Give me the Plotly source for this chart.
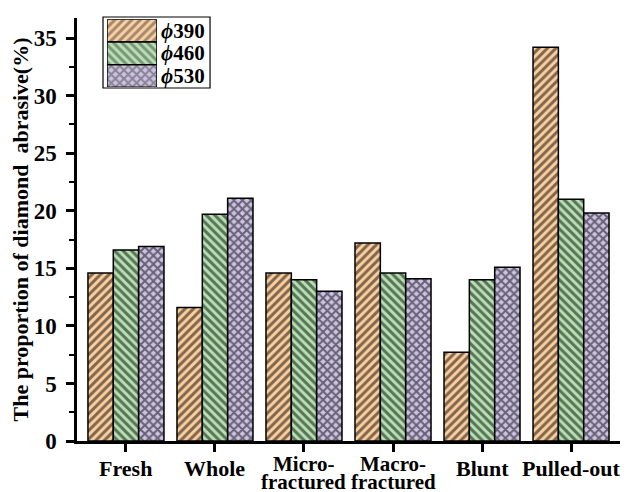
import plotly.graph_objects as go

categories = ["Fresh", "Whole", "Micro-<br>fractured", "Macro-<br>fractured", "Blunt", "Pulled-out"]
series_names = ["390", "460", "530"]
phi390 = [14.6, 11.6, 14.6, 17.2, 7.7, 34.2]
phi460 = [16.6, 19.7, 14.0, 14.6, 14.0, 21.0]
phi530 = [16.9, 21.1, 13.0, 14.1, 15.1, 19.8]
y_ticks = [0, 5, 10, 15, 20, 25, 30, 35]

colors = ["#FDCF9E", "#B6E2B2", "#CCC2E2"]
shapes_p = ["/", "\\", "x"]
sizes_p = [6, 6, 6]
solid_p = [0.5, 0.5, 0.55]
FONT = "Liberation Serif"

fig = go.Figure()
xs = list(range(len(categories)))
for vals, c, sh, sz, so in zip([phi390, phi460, phi530], colors, shapes_p, sizes_p, solid_p):
    fig.add_trace(go.Bar(
        x=xs, y=vals, showlegend=False,
        marker=dict(color=c, line=dict(color="black", width=1.5),
                    pattern=dict(shape=sh, fgcolor="black", bgcolor=c,
                                 size=sz, solidity=so, fillmode="overlay")),
    ))

# custom legend with big swatches on an inset axis
fig.add_trace(go.Bar(
    x=[1, 1, 1], y=[0, 1, 2], orientation="h", xaxis="x2", yaxis="y2",
    showlegend=False, width=1,
    marker=dict(color=colors, line=dict(color="black", width=1.5),
                pattern=dict(shape=shapes_p, fgcolor="black", bgcolor=colors,
                             size=sizes_p, solidity=solid_p, fillmode="overlay")),
))

# page body has an 8px margin: figure is 8px smaller each way
fig.update_layout(
    width=622, height=484,
    margin=dict(l=69, r=10, t=10, b=51, autoexpand=False),
    plot_bgcolor="white", paper_bgcolor="white",
    barmode="group", bargap=0.146, bargroupgap=0,
    font=dict(family=FONT, color="black"),
    xaxis=dict(range=[-0.55, 5.55], tickvals=xs, showticklabels=False, automargin=False,
               showline=True, linecolor="black", linewidth=2.5,
               ticks="outside", ticklen=8, tickwidth=2.5, tickcolor="black",
               showgrid=False, zeroline=False),
    yaxis=dict(range=[0, 36.75], tickvals=y_ticks, automargin=False,
               showline=True, linecolor="black", linewidth=2.5,
               ticks="outside", ticklen=8, tickwidth=2.5, tickcolor="black",
               ticklabelstandoff=5,
               minor=dict(dtick=2.5, ticks="outside", ticklen=5, tickwidth=2, tickcolor="black"),
               tickfont=dict(family=FONT, size=23, color="black", weight="bold"),
               title=dict(text="<b>The proportion of diamond\u00a0 abrasive(%)</b>",
                          font=dict(family=FONT, size=22, color="black"), standoff=0),
               showgrid=False, zeroline=False),
    xaxis2=dict(domain=[0.0552, 0.1473], range=[0, 1], visible=False, anchor="y2", fixedrange=True),
    yaxis2=dict(domain=[0.836, 0.997], range=[2.5, -0.5], visible=False, anchor="x2", fixedrange=True),
)

# category labels (tight two-line spacing like the original)
for xi, cat in zip(xs, categories):
    lines = cat.split("<br>")
    if len(lines) == 1:
        shifts = [-27.5]
    else:
        shifts = [-22.5, -40.5]
    for ln, sh in zip(lines, shifts):
        fig.add_annotation(x=xi, xref="x", y=0, yref="paper", yshift=sh,
                           text="<b>%s</b>" % ln, showarrow=False, yanchor="middle",
                           font=dict(family=FONT, size=21 if len(lines) > 1 else 22, color="black"))

fig.add_shape(type="rect", xref="paper", yref="paper", x0=0.0479, x1=0.245, y0=0.8345, y1=1.0024,
              line=dict(color="black", width=1.2), layer="below")

for i, name in enumerate(series_names):
    fig.add_annotation(xref="paper", yref="paper", x=0.151, y=0.997 - (i + 0.5) * (0.161 / 3),
                       xanchor="left", yanchor="middle", showarrow=False,
                       text="<b><i>\u03d5</i>%s</b>" % name,
                       font=dict(family=FONT, size=21, color="black"))

fig.write_html("out.html")
